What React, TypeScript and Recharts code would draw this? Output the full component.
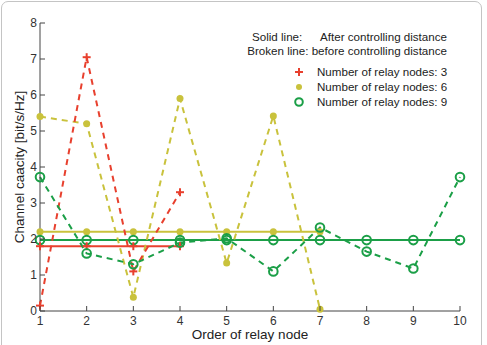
import React from "react"
import { LineChart, Line, XAxis, YAxis } from "recharts"

// relay node order on the x axis
const xTicks = [1, 2, 3, 4, 5, 6, 7, 8, 9, 10]
const yTicks = [0, 1, 2, 3, 4, 5, 6, 7, 8]

// channel capacity before controlling distance (dashed)
const broken3 = [0.15, 7.05, 1.1, 3.3]
const broken6 = [5.4, 5.2, 0.38, 5.9, 1.33, 5.42, 0.05]
const broken9 = [3.72, 1.6, 1.3, 1.9, 2.02, 1.1, 2.32, 1.65, 1.18, 3.72]

// channel capacity after controlling distance (solid)
const solid3 = [1.8, 1.8, 1.8, 1.8]
const solid6 = [2.2, 2.2, 2.2, 2.2, 2.2, 2.2, 2.2]
const solid9 = [1.97, 1.97, 1.97, 1.97, 1.97, 1.97, 1.97, 1.97, 1.97, 1.97]

const RED = "#e8402e"
const YELLOW = "#c9c23c"
const GREEN = "#1b9f47"
const AXIS = "#444"
const FONT = "'Liberation Sans', Arial, sans-serif"

const toRows = (vals: number[]) => vals.map((y, i) => ({ x: i + 1, y }))

const PlusDot = (p: any) => (
  <g key={`p-${p.index}-${p.cx}`} stroke={RED} strokeWidth={2}>
    <line x1={p.cx - 4} x2={p.cx + 4} y1={p.cy} y2={p.cy} />
    <line x1={p.cx} x2={p.cx} y1={p.cy - 4} y2={p.cy + 4} />
  </g>
)
const FilledDot = (p: any) => (
  <circle key={`f-${p.index}-${p.cx}`} cx={p.cx} cy={p.cy} r={3.5} fill={YELLOW} />
)
const RingDot = (p: any) => (
  <circle key={`r-${p.index}-${p.cx}`} cx={p.cx} cy={p.cy} r={4.3} fill="none" stroke={GREEN} strokeWidth={2} />
)

const BottomTick = (p: any) => (
  <g>
    <line x1={p.x} x2={p.x} y1={p.y - 4} y2={p.y - 9} stroke={AXIS} />
    <text x={p.x} y={p.y + 10} textAnchor="middle" fontSize={12} fill="#333" fontFamily={FONT}>
      {p.payload.value}
    </text>
  </g>
)
const LeftTick = (p: any) => (
  <g>
    <line x1={p.x + 3} x2={p.x + 8} y1={p.y} y2={p.y} stroke={AXIS} />
    <text x={p.x} y={p.y + 4} textAnchor="end" fontSize={12} fill="#333" fontFamily={FONT}>
      {p.payload.value}
    </text>
  </g>
)
const TopTick = (p: any) => <line x1={p.x} x2={p.x} y1={p.y} y2={p.y + 5} stroke={AXIS} />
const RightTick = (p: any) => <line x1={p.x} x2={p.x - 5} y1={p.y} y2={p.y} stroke={AXIS} />

// legend box drawn over the top-right corner of the plot
const LegendBox = () => (
  <svg width={215} height={80} style={{ position: "absolute", left: 240, top: 28 }}>
    <g fontFamily={FONT} fontSize={11.6} fill="#222">
      <text x={12} y={13}>Solid line:</text>
      <text x={207} y={13} textAnchor="end">After controlling distance</text>
      <text x={207} y={27} textAnchor="end">Broken line: before controlling distance</text>
      <text x={77} y={48}>Number of relay nodes: 3</text>
      <text x={77} y={63}>Number of relay nodes: 6</text>
      <text x={77} y={78}>Number of relay nodes: 9</text>
    </g>
    <g stroke={RED} strokeWidth={2}>
      <line x1={55} x2={63} y1={44} y2={44} />
      <line x1={59} x2={59} y1={40} y2={48} />
    </g>
    <circle cx={59} cy={59} r={3} fill={YELLOW} />
    <circle cx={59} cy={74} r={3.8} fill="none" stroke={GREEN} strokeWidth={2} />
  </svg>
)

export default function App() {
  const series = [
    { id: "s6", vals: solid6, color: YELLOW, dot: FilledDot, dash: undefined },
    { id: "s9", vals: solid9, color: GREEN, dot: RingDot, dash: undefined },
    { id: "s3", vals: solid3, color: RED, dot: PlusDot, dash: undefined },
    { id: "b6", vals: broken6, color: YELLOW, dot: FilledDot, dash: "6 5" },
    { id: "b3", vals: broken3, color: RED, dot: PlusDot, dash: "6 5" },
    { id: "b9", vals: broken9, color: GREEN, dot: RingDot, dash: "6 5" },
  ]

  return (
    <div style={{ position: "absolute", left: 0, top: 0, width: 487, height: 345, overflow: "hidden", background: "#fff" }}>
      <div
        style={{
          position: "absolute",
          left: 1,
          top: 1,
          width: 479,
          height: 360,
          border: "1px solid #c4c4c4",
          borderRadius: 7,
        }}
      />
      <LineChart width={487} height={345} margin={{ top: 23, right: 27, bottom: 0, left: 0 }}>
        <XAxis
          dataKey="x"
          type="number"
          domain={[1, 10]}
          ticks={xTicks}
          height={34}
          tickSize={0}
          tickMargin={4}
          tickLine={false}
          tick={BottomTick}
          axisLine={{ stroke: AXIS }}
          label={{
            content: () => (
              <text x={250} y={339} textAnchor="middle" fontSize={13.5} fill="#222" fontFamily={FONT}>
                Order of relay node
              </text>
            ),
          }}
        />
        <XAxis
          xAxisId="top"
          dataKey="x"
          type="number"
          orientation="top"
          domain={[1, 10]}
          ticks={xTicks}
          height={0}
          tickSize={0}
          tickMargin={0}
          tickLine={false}
          tick={TopTick}
          axisLine={{ stroke: AXIS }}
        />
        <YAxis
          type="number"
          domain={[0, 8]}
          ticks={yTicks}
          width={40}
          tickSize={0}
          tickMargin={3}
          tickLine={false}
          tick={LeftTick}
          axisLine={{ stroke: AXIS }}
          label={{
            content: () => (
              <text
                x={24}
                y={167}
                transform="rotate(-90 24 167)"
                textAnchor="middle"
                fontSize={13.5}
                fill="#222"
                fontFamily={FONT}
              >
                Channel caacity [bit/s/Hz]
              </text>
            ),
          }}
        />
        <YAxis
          yAxisId="right"
          orientation="right"
          type="number"
          domain={[0, 8]}
          ticks={yTicks}
          width={0}
          tickSize={0}
          tickMargin={0}
          tickLine={false}
          tick={RightTick}
          axisLine={{ stroke: AXIS }}
        />
        {series.map((s) => (
          <Line
            key={s.id}
            data={toRows(s.vals)}
            dataKey="y"
            stroke={s.color}
            strokeWidth={2}
            strokeDasharray={s.dash}
            dot={s.dot}
            activeDot={false}
            isAnimationActive={false}
          />
        ))}
      </LineChart>
      <LegendBox />
    </div>
  )
}
